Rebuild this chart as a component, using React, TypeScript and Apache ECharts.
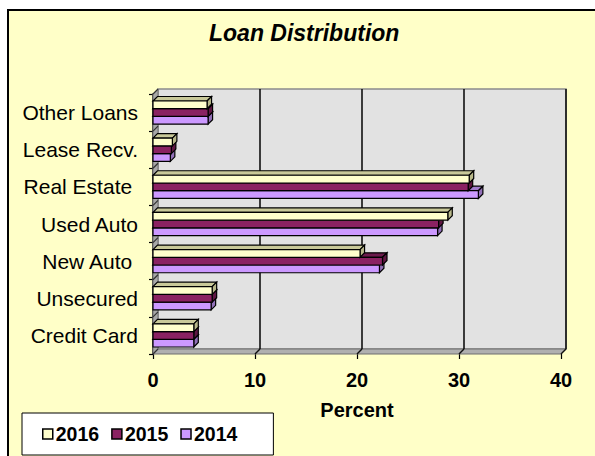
import React, { useEffect, useRef } from "react";
import * as echarts from "echarts";

const categories = ["Credit Card", "Unsecured", "New Auto ", "Used Auto", "Real Estate ", "Lease Recv.", "Other Loans"];
const years = ["2016", "2015", "2014"];
const values2016 = [4.0, 5.8, 20.3, 28.9, 31.0, 1.9, 5.3];
const values2015 = [4.0, 5.8, 22.5, 28.0, 30.9, 1.8, 5.4];
const values2014 = [4.0, 5.7, 22.2, 27.9, 31.9, 1.7, 5.4];
const xTicks = [0, 10, 20, 30, 40];

const FONT = "Liberation Sans, Arial, sans-serif";
const DX = 5;
const DY = -5;
const BDX = 4.5;
const BDY = -4.5;

const yearStyles: Record<string, { front: string; top: string; side: string }> = {
  "2016": { front: "#FFFFCC", top: "#C9C999", side: "#B8B88A" },
  "2015": { front: "#8A2262", top: "#6B1A4C", side: "#5E1642" },
  "2014": { front: "#CC99FF", top: "#A27BCC", side: "#9270B8" },
};

export default function App() {
  const ref = useRef<HTMLDivElement>(null);
  useEffect(() => {
    document.body.style.margin = "0";
    const chart = echarts.init(ref.current!, null, { renderer: "svg" });

    const seriesData: Record<string, number[]> = {
      "2016": values2016,
      "2015": values2015,
      "2014": values2014,
    };

    const makeBarSeries = (year: string) => {
      const k = years.indexOf(year); // 0 = top
      const st = yearStyles[year];
      return {
        name: year,
        type: "custom",
        z: 3,
        clip: false,
        itemStyle: { color: st.front, borderColor: "#000", borderWidth: 1 },
        encode: { x: 0, y: 1 },
        data: seriesData[year].map((v, i) => [v, i]),
        renderItem: (params: any, api: any) => {
          const v = api.value(0);
          const cat = api.value(1);
          const s = api.coord([0, cat]);
          const e = api.coord([v, cat]);
          const band = api.size([0, 1])[1];
          const bw = band * 0.208;
          const yt = s[1] - 1.5 * bw + k * bw;
          const x0 = s[0];
          const x1 = e[0];
          const line = { stroke: "#000", lineWidth: 1.2 };
          return {
            type: "group",
            children: [
              {
                type: "polygon",
                shape: { points: [[x0, yt], [x1, yt], [x1 + BDX, yt + BDY], [x0 + BDX, yt + BDY]] },
                style: { fill: st.top, ...line },
              },
              {
                type: "polygon",
                shape: { points: [[x1, yt], [x1 + BDX, yt + BDY], [x1 + BDX, yt + bw + BDY], [x1, yt + bw]] },
                style: { fill: st.side, ...line },
              },
              {
                type: "rect",
                shape: { x: x0, y: yt, width: x1 - x0, height: bw },
                style: { fill: st.front, ...line },
              },
            ],
          };
        },
      };
    };

    const wallSeries = {
      name: "walls",
      type: "custom",
      z: 1,
      clip: false,
      silent: true,
      encode: { x: 0, y: 1 },
      data: [[0, 0]],
      renderItem: (params: any, api: any) => {
        const cs = params.coordSys;
        const x0 = cs.x;
        const x1 = cs.x + cs.width;
        const top = cs.y;
        const bottom = cs.y + cs.height;
        const children: any[] = [];
        children.push({
          type: "rect",
          shape: { x: x0 + DX, y: top + DY, width: x1 - x0, height: bottom - top },
          style: { fill: "#E2E2E2", stroke: "#8C8C8C", lineWidth: 1.5 },
        });
        children.push({
          type: "polygon",
          shape: { points: [[x0, top], [x0 + DX, top + DY], [x0 + DX, bottom + DY], [x0, bottom]] },
          style: { fill: "#A8A8A8", stroke: "#707070", lineWidth: 1 },
        });
        children.push({
          type: "polygon",
          shape: { points: [[x0, bottom], [x1, bottom], [x1 + DX, bottom + DY], [x0 + DX, bottom + DY]] },
          style: { fill: "#B0B0B0", stroke: "#6E6E6E", lineWidth: 1 },
        });
        xTicks.forEach((t) => {
          if (t === 0) return;
          const px = api.coord([t, 0])[0];
          children.push({
            type: "line",
            shape: { x1: px + DX, y1: top + DY, x2: px + DX, y2: bottom + DY },
            style: { stroke: "#111", lineWidth: 1.6 },
          });
          children.push({
            type: "line",
            shape: { x1: px + DX, y1: bottom + DY, x2: px, y2: bottom },
            style: { stroke: "#111", lineWidth: 1.4 },
          });
        });
        const n = categories.length;
        const band = cs.height / n;
        for (let i = 0; i <= n; i++) {
          const yb = top + i * band;
          children.push({
            type: "line",
            shape: { x1: x0, y1: yb, x2: x0 + DX, y2: yb + DY },
            style: { stroke: "#333", lineWidth: 1.2 },
          });
        }
        return { type: "group", children };
      },
    };

    chart.setOption({
      animation: false,
      backgroundColor: "#FFFFFF",
      graphic: [
        {
          type: "rect",
          z: -10,
          shape: { x: 8, y: 10, width: 620, height: 480 },
          style: { fill: "#FFFFC8", stroke: "#000", lineWidth: 2 },
        },
      ],
      title: {
        text: "Loan Distribution",
        left: 204,
        top: 16,
        textStyle: { fontFamily: FONT, fontSize: 23, fontWeight: "bold", fontStyle: "italic", color: "#000" },
      },
      legend: {
        data: years,
        left: 22,
        top: 413,
        orient: "horizontal",
        backgroundColor: "#FFFFFF",
        borderColor: "#000",
        borderWidth: 1,
        borderRadius: 0,
        padding: [11, 36, 11, 20],
        itemGap: 12,
        itemWidth: 10,
        itemHeight: 10,
        icon: "rect",
        itemStyle: { borderColor: "#000", borderWidth: 1.5 },
        textStyle: { fontFamily: FONT, fontSize: 19.5, fontWeight: "bold", color: "#000", padding: [0, 0, 0, -2] },
      },
      grid: { left: 153, right: 34, top: 94, bottom: 102, containLabel: false },
      xAxis: {
        type: "value",
        min: 0,
        max: 40,
        interval: 10,
        name: "Percent",
        nameLocation: "middle",
        nameGap: 46,
        nameTextStyle: { fontFamily: FONT, fontSize: 20, fontWeight: "bold", color: "#000" },
        axisLine: { show: false },
        axisTick: { show: true, length: 5, lineStyle: { color: "#000", width: 1.2 } },
        axisLabel: { fontFamily: FONT, fontSize: 20, fontWeight: "bold", color: "#000", margin: 16 },
        splitLine: { show: false },
      },
      yAxis: {
        type: "category",
        data: categories,
        axisLine: { show: true, lineStyle: { color: "#000", width: 1.5 } },
        axisTick: { show: true, length: 4, lineStyle: { color: "#000", width: 1.2 } },
        axisLabel: { fontFamily: FONT, fontSize: 21, color: "#000", margin: 15 },
        splitLine: { show: false },
      },
      series: [wallSeries, makeBarSeries("2014"), makeBarSeries("2015"), makeBarSeries("2016")],
    });
    return () => chart.dispose();
  }, []);
  return <div ref={ref} style={{ width: 595, height: 456 }} />;
}
